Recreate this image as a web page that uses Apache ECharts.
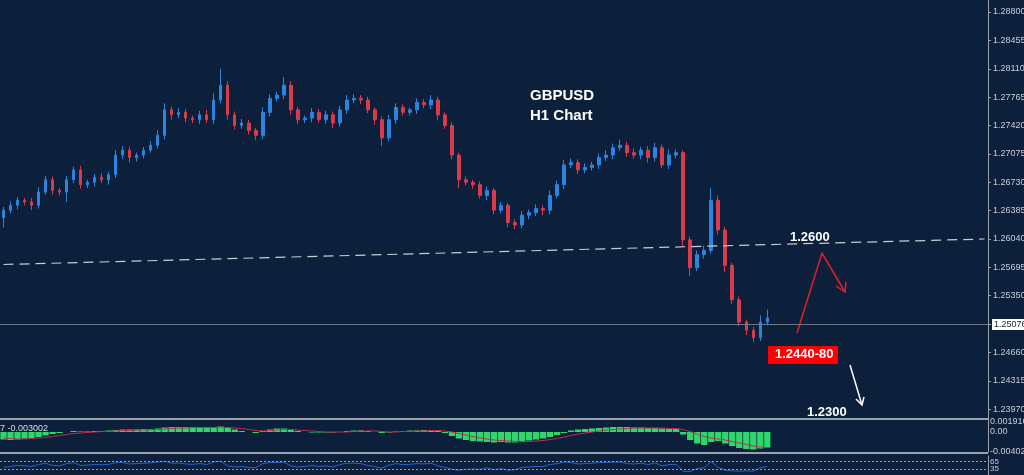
<!DOCTYPE html>
<html><head><meta charset="utf-8">
<script src="https://cdn.jsdelivr.net/npm/echarts@6/dist/echarts.min.js"></script>
<style>html,body{margin:0;padding:0;background:#0c1f3b}#c{width:1024px;height:475px}</style>
</head><body><div id="c"></div>
<script>
const closes = [1.2639,1.2645,1.2651,1.2649,1.2645,1.2661,1.2676,1.2663,1.2661,1.2676,
1.2688,1.2670,1.2673,1.2679,1.2676,1.2682,1.2706,1.2712,1.2703,1.2706,
1.2712,1.2718,1.2730,1.2761,1.2755,1.2758,1.2751,1.2749,1.2755,1.2749,
1.2773,1.2791,1.2755,1.2742,1.2745,1.2736,1.2730,1.2758,1.2775,1.2779,
1.2791,1.2761,1.2749,1.2751,1.2758,1.2749,1.2755,1.2745,1.2761,1.2773,
1.2775,1.2773,1.2761,1.2749,1.2727,1.2749,1.2764,1.2758,1.2761,1.2770,
1.2767,1.2773,1.2755,1.2742,1.2706,1.2676,1.2673,1.2670,1.2657,1.2663,
1.2639,1.2645,1.2624,1.2621,1.2633,1.2636,1.2641,1.2639,1.2657,1.2670,
1.2694,1.2697,1.2688,1.2691,1.2694,1.2703,1.2706,1.2715,1.2718,1.2709,
1.2706,1.2712,1.2703,1.2715,1.2694,1.2706,1.2709,1.2603,1.2569,1.2585,
1.2590,1.2651,1.2615,1.2572,1.2530,1.2503,1.2493,1.2484,1.2503,1.2508];
const firstOpen = 1.2630;
const wickHi = [4,5,4,3,5,6,5,4,3,5, 4,5,3,4,5,4,6,5,4,3, 4,5,6,8,4,5,4,3,5,6, 8,20,5,4,5,4,3,6,5,4, 10,5,4,3,5,4,5,4,5,6, 5,4,4,3,4,6,5,4,3,5, 4,6,4,3,4,3,4,3,4,5, 3,4,3,4,5,4,5,4,6,5, 6,5,4,5,4,5,6,5,7,4, 5,4,5,6,4,7,4,3,4,5, 6,15,6,4,3,4,3,4,8,10];
const wickLo = [12,4,5,4,6,4,3,5,4,12, 4,5,4,5,4,6,4,5,6,5, 4,3,4,5,6,4,5,4,5,4, 5,4,6,5,4,5,6,4,5,4, 5,6,5,4,5,4,5,6,4,5, 4,5,4,6,10,4,5,4,4,5, 4,5,6,4,5,10,4,5,4,6, 5,4,6,5,4,5,4,6,5,4, 5,4,5,4,4,5,4,5,4,5, 4,5,6,5,4,5,4,8,10,4, 5,4,6,8,5,5,6,5,4,4];
const macd = [-1.5,-1.6,-1.5,-1.3,-1.2,-1.0,-0.7,-0.4,-0.2,0.0,
0.2,0.1,0.1,0.2,0.2,0.3,0.4,0.5,0.5,0.5,
0.6,0.6,0.7,0.9,1.0,1.0,1.0,1.0,1.0,0.9,
1.0,1.1,0.8,0.5,0.2,0.0,-0.2,0.2,0.5,0.7,
0.7,0.5,0.2,0.0,-0.1,-0.1,-0.1,-0.1,0.0,0.2,
0.3,0.3,0.2,0.0,-0.2,-0.1,0.1,0.2,0.3,0.3,
0.4,0.4,0.3,-0.2,-0.8,-1.3,-1.6,-1.8,-1.9,-2.0,
-2.1,-2.0,-2.1,-2.1,-1.9,-1.7,-1.5,-1.3,-1.0,-0.6,
-0.2,0.3,0.5,0.6,0.7,0.8,0.9,1.0,1.0,1.0,
0.9,0.9,0.8,0.8,0.7,0.6,0.6,-0.5,-1.6,-2.3,
-2.6,-2.0,-1.8,-2.3,-2.8,-3.2,-3.4,-3.5,-3.3,-3.1];
const signal = [-1.2,-1.3,-1.4,-1.4,-1.3,-1.2,-1.1,-0.9,-0.7,-0.5,
-0.3,-0.2,-0.1,0.0,0.1,0.1,0.2,0.3,0.3,0.4,
0.4,0.5,0.5,0.6,0.7,0.8,0.8,0.9,0.9,0.9,
0.9,1.0,0.9,0.8,0.7,0.5,0.3,0.2,0.3,0.4,
0.5,0.5,0.4,0.3,0.2,0.1,0.0,0.0,0.0,0.0,
0.1,0.2,0.2,0.2,0.1,0.0,0.0,0.1,0.1,0.2,
0.2,0.3,0.3,0.2,0.0,-0.3,-0.6,-0.9,-1.2,-1.4,
-1.6,-1.7,-1.8,-1.9,-1.9,-1.9,-1.8,-1.7,-1.5,-1.3,
-1.0,-0.7,-0.4,-0.2,0.0,0.2,0.4,0.5,0.6,0.7,
0.8,0.8,0.8,0.8,0.8,0.7,0.7,0.5,0.1,-0.4,
-0.9,-1.2,-1.4,-1.6,-1.9,-2.2,-2.5,-2.8,-3.0,-3.1];
const rsi = [40,45,50,48,45,55,62,50,48,60,65,50,52,55,54,56,65,66,58,60,
62,64,68,72,62,63,58,56,60,55,68,72,48,42,45,40,38,60,66,65,68,48,42,45,50,44,48,42,55,62,
62,60,50,44,35,52,60,55,56,60,58,62,48,40,30,25,30,32,30,38,28,34,25,28,40,42,45,44,55,60,
68,66,58,60,62,65,66,68,68,60,58,62,55,64,48,55,56,20,18,35,38,70,40,25,22,20,22,20,38,45];
const priceTicks = {min:1.23625, max:1.28946, step:0.00345};
const levelLine = [1.2573, 1.2604];
const lastPrice = 1.25076;

const N = 141;
const cats = Array.from({length:N},(_,i)=>String(i));
const candles = [];
let prev = firstOpen;
closes.forEach((c,i)=>{
  const hi = Math.max(prev,c) + wickHi[i]*0.0001;
  const lo = Math.min(prev,c) - wickLo[i]*0.0001;
  candles.push([prev,c,lo,hi]); prev = c;
});
const chart = echarts.init(document.getElementById('c'));
const lab = {color:'#c9ced6',fontSize:9,fontFamily:'Liberation Sans, Arial, sans-serif'};
const gb = {left:0,right:36,outerBoundsMode:'none',containLabel:false};
chart.setOption({
  backgroundColor:'#0c1f3b', animation:false,
  grid:[
    Object.assign({top:0,height:437.6},gb),
    Object.assign({top:422,height:30},gb),
    Object.assign({top:456,height:19},gb)
  ],
  xAxis:[0,1,2].map(g=>({type:'category',data:cats,gridIndex:g,boundaryGap:true,show:false})),
  yAxis:[
    {gridIndex:0,position:'right',min:priceTicks.min,max:priceTicks.max,interval:priceTicks.step,
     splitLine:{show:false},axisLine:{show:true,lineStyle:{color:'#9aa3ad'}},
     axisTick:{show:true,length:3,lineStyle:{color:'#9aa3ad'}},
     axisLabel:Object.assign({showMinLabel:false,showMaxLabel:false,margin:5,formatter:v=>v.toFixed(5)},lab)},
    {gridIndex:1,position:'right',min:-0.004,max:0.002,interval:0.002,splitLine:{show:false},
     axisLine:{show:true,lineStyle:{color:'#9aa3ad'}},axisTick:{show:false},
     axisLabel:Object.assign({margin:2,formatter:v=>{const r=Math.round(v*1000);return r===2?'0.001916':r===0?'0.00':r===-4?'-0.004022':'';}},lab)},
    {gridIndex:2,position:'right',min:0,max:100,interval:35,splitLine:{show:false},
     axisLine:{show:true,lineStyle:{color:'#9aa3ad'}},axisTick:{show:false},
     axisLabel:Object.assign({margin:2,formatter:v=>v===0?'':String(v+(v>50?-5:0))},lab,{fontSize:8})}
  ],
  series:[
    {type:'candlestick',data:candles,barWidth:3,
     itemStyle:{color:'#2a84e0',color0:'#d93a4c',borderColor:'#2a84e0',borderColor0:'#d93a4c',borderWidth:1},
     markLine:{symbol:'none',silent:true,animation:false,data:[
       [{coord:[0,levelLine[0]]},{coord:[N-1,levelLine[1]],lineStyle:{color:'#c8cdd3',type:[10,6],width:1.2},label:{show:false}}],
       {yAxis:lastPrice,lineStyle:{color:'#6b7886',type:'solid',width:1},
        label:{position:'end',distance:4,formatter:'1.25076',color:'#0c1f3b',backgroundColor:'#ffffff',padding:[1,2],fontSize:9,fontFamily:'Liberation Sans, Arial'}}
     ]}},
    {type:'bar',xAxisIndex:1,yAxisIndex:1,data:macd.map(v=>v/1000),barWidth:'90%',itemStyle:{color:'#2fd66b'}},
    {type:'line',xAxisIndex:1,yAxisIndex:1,data:signal.map(v=>v/1000),symbol:'none',lineStyle:{color:'#c0304a',width:1}},
    {type:'line',xAxisIndex:2,yAxisIndex:2,data:rsi,symbol:'none',lineStyle:{color:'#2b63c9',width:1},
     markLine:{symbol:'none',silent:true,label:{show:false},lineStyle:{color:'#9aa3ad',type:[2,2],width:1},data:[{yAxis:70},{yAxis:30}]}}
  ],
  graphic:[
    {type:'rect',shape:{x:0,y:418,width:988,height:2},style:{fill:'#9aa3ad'}},
    {type:'rect',shape:{x:0,y:452,width:988,height:2},style:{fill:'#9aa3ad'}},
    {type:'text',x:0,y:424,style:{text:'7 -0.003002',fill:'#d8dde3',font:'9px Liberation Sans, Arial'}},
    {type:'text',x:530,y:88,style:{text:'GBPUSD',fill:'#fff',font:'bold 15px Arial, Liberation Sans'}},
    {type:'text',x:530,y:108,style:{text:'H1 Chart',fill:'#fff',font:'bold 15px Arial, Liberation Sans'}},
    {type:'text',x:790,y:231,style:{text:'1.2600',fill:'#fff',font:'bold 13px Arial, Liberation Sans'}},
    {type:'polyline',shape:{points:[[797,333],[822,253],[845,292]]},style:{stroke:'#e0202a',lineWidth:1.5,fill:null}},
    {type:'polyline',shape:{points:[[836,286],[845,292],[846,282]]},style:{stroke:'#e0202a',lineWidth:1.5,fill:null}},
    {type:'rect',shape:{x:768,y:346,width:70,height:18},style:{fill:'#ff0000'}},
    {type:'text',x:775,y:348,style:{text:'1.2440-80',fill:'#fff',font:'bold 13px Arial, Liberation Sans'}},
    {type:'polyline',shape:{points:[[850,365],[862,405]]},style:{stroke:'#ffffff',lineWidth:1.5}},
    {type:'polyline',shape:{points:[[856,399],[862,405],[864,397]]},style:{stroke:'#ffffff',lineWidth:1.5,fill:null}},
    {type:'text',x:807,y:406,style:{text:'1.2300',fill:'#fff',font:'bold 13px Arial, Liberation Sans'}}
  ]
});
</script></body></html>
